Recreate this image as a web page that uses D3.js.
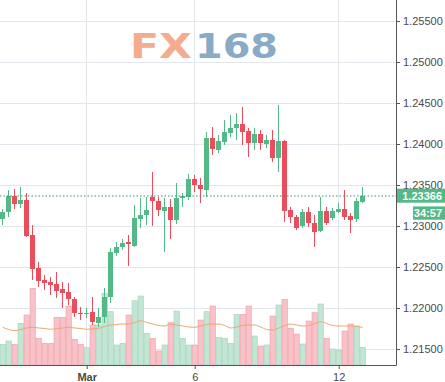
<!DOCTYPE html>
<html>
<head>
<meta charset="utf-8">
<script src="https://cdn.jsdelivr.net/npm/d3@7/dist/d3.min.js"></script>
<style>
	body { margin: 0; background: #fff; }
	svg { display: block; font-family: 'Liberation Sans', Arial, sans-serif; }
	.labels text { fill: #4a4a4a; font-size: 11px; }
	.labels line { stroke: #555; }
</style>
</head>
<body>
<svg></svg>
<script>
const open = [1.23082, 1.23174, 1.23366, 1.23265, 1.23317, 1.22890, 1.22484, 1.22341, 1.22321, 1.22293,
	1.22228, 1.22195, 1.22106, 1.21943, 1.21931, 1.21948, 1.21821, 1.21887, 1.22131, 1.22674,
	1.22748, 1.22805, 1.22760, 1.23085, 1.23131, 1.23350, 1.23309, 1.23187, 1.23228, 1.23073,
	1.23345, 1.23357, 1.23570, 1.23496, 1.23439, 1.24077, 1.23927, 1.24028, 1.24138, 1.24191,
	1.24244, 1.24159, 1.24009, 1.24118, 1.24000, 1.24049, 1.23833, 1.24037, 1.23195, 1.23106,
	1.23000, 1.23171, 1.23040, 1.22943, 1.23183, 1.23094, 1.23174, 1.23207, 1.23122, 1.23082,
	1.23296];
const high = [1.23207, 1.23439, 1.23448, 1.23479, 1.23399, 1.23012, 1.22565, 1.22402, 1.22382, 1.22443,
	1.22321, 1.22301, 1.22138, 1.22016, 1.22000, 1.22138, 1.22000, 1.22240, 1.22735, 1.22809,
	1.22838, 1.22890, 1.23256, 1.23345, 1.23357, 1.23662, 1.23357, 1.23338, 1.23326, 1.23521,
	1.23399, 1.23634, 1.23622, 1.23582, 1.24150, 1.24211, 1.24110, 1.24293, 1.24354, 1.24374,
	1.24455, 1.24191, 1.24191, 1.24171, 1.24110, 1.24171, 1.24476, 1.24049, 1.23235, 1.23134,
	1.23204, 1.23235, 1.23134, 1.23357, 1.23235, 1.23216, 1.23284, 1.23439, 1.23155, 1.23338,
	1.23472];
const low = [1.23012, 1.23113, 1.23204, 1.23216, 1.22862, 1.22341, 1.22260, 1.22220, 1.22159, 1.22118,
	1.21996, 1.22037, 1.21894, 1.21854, 1.21878, 1.21793, 1.21772, 1.21813, 1.22057, 1.22634,
	1.22707, 1.22512, 1.22748, 1.22972, 1.23012, 1.23000, 1.23126, 1.22687, 1.22838, 1.23024,
	1.23228, 1.23317, 1.23418, 1.23284, 1.23357, 1.23866, 1.23887, 1.23988, 1.24089, 1.24049,
	1.23988, 1.23845, 1.23927, 1.23927, 1.23948, 1.23784, 1.23662, 1.23052, 1.23033, 1.22951,
	1.22972, 1.22991, 1.22748, 1.22931, 1.23012, 1.23073, 1.23155, 1.23073, 1.22911, 1.23052,
	1.23277];
const close = [1.23174, 1.23366, 1.23268, 1.23317, 1.22878, 1.22476, 1.22333, 1.22309, 1.22280, 1.22211,
	1.22187, 1.22106, 1.21943, 1.21931, 1.21940, 1.21833, 1.21887, 1.22138, 1.22683, 1.22748,
	1.22796, 1.22781, 1.23094, 1.23131, 1.23195, 1.23309, 1.23195, 1.23228, 1.23073, 1.23338,
	1.23366, 1.23570, 1.23496, 1.23448, 1.24077, 1.23935, 1.24037, 1.24143, 1.24199, 1.24244,
	1.24150, 1.24009, 1.24118, 1.24009, 1.24049, 1.23826, 1.24037, 1.23187, 1.23113, 1.22972,
	1.23171, 1.23033, 1.22931, 1.23183, 1.23040, 1.23183, 1.23207, 1.23113, 1.23073, 1.23309,
	1.23366];
const volume = [2070, 2400, 2070, 4170, 5000, 7670, 2670, 2170, 2170, 4770,
	4770, 5900, 2570, 2070, 1730, 4000, 4000, 7170, 5330, 2000,
	2170, 5000, 6430, 6900, 3170, 2670, 1400, 2000, 4230, 5400,
	2670, 2000, 2000, 4500, 5330, 5900, 2770, 2670, 2170, 5070,
	5070, 5900, 2900, 1900, 2000, 4900, 6000, 6570, 3670, 3100,
	2100, 4400, 5230, 6100, 2670, 1600, 1500, 3400, 4100, 3900,
	1770];
const volumeMA = [3770, 3550, 3430, 3550, 3700, 3770, 3700, 3650, 3570, 3650,
	3700, 3770, 3700, 3650, 3570, 3620, 3670, 3850, 4000, 4050,
	4100, 4100, 4250, 4430, 4250, 4100, 3950, 3900, 4100, 4000,
	3900, 3800, 3770, 3900, 4050, 4100, 4100, 3950, 3700, 3800,
	3950, 4000, 4000, 3800, 3550, 3500, 3700, 3950, 4100, 4000,
	3900, 3950, 4150, 4330, 4150, 3950, 3900, 3900, 3900, 3850,
	3770];

const priceTicks = [1.215, 1.22, 1.225, 1.23, 1.235, 1.24, 1.245, 1.25, 1.255];
const dayTicks = [14, 32, 56];
const dayLabels = ['Mar', '6', '12'];
const lastPrice = '1.23366';
const countdown = '34:57';

const width = 445;
const height = 382;
const plotRight = 396;
const plotBottom = 365;
const upColor = '#53b987';
const downColor = '#eb4d5c';

const data = open.map((o, i) => ({
	i: i, o: o, h: high[i], l: low[i], c: close[i], v: volume[i], ma: volumeMA[i]
}));

const svg = d3.select('svg')
	.attr('width', width)
	.attr('height', height);

const xScale = d3.scaleLinear()
	.domain([0, data.length - 1])
	.range([2.7, 362.7]);

const yScale = d3.scaleLinear()
	.domain([1.215, 1.255])
	.range([349, 21]);

const vScale = d3.scaleLinear()
	.domain([0, 10000])
	.range([plotBottom, plotBottom - 100]);

const step = xScale(1) - xScale(0);

// grid
const grid = svg.append('g')
	.attr('stroke', '#e3e6ec')
	.attr('shape-rendering', 'crispEdges');

grid.selectAll('.h')
	.data(priceTicks)
	.enter().append('line')
	.attr('x1', 0)
	.attr('x2', plotRight)
	.attr('y1', d => yScale(d))
	.attr('y2', d => yScale(d));

grid.selectAll('.v')
	.data(dayTicks)
	.enter().append('line')
	.attr('x1', d => xScale(d))
	.attr('x2', d => xScale(d))
	.attr('y1', 0)
	.attr('y2', plotBottom);

// watermark
const mark = svg.append('g')
	.attr('font-family', 'DejaVu Sans, sans-serif')
	.attr('font-weight', 'bold')
	.attr('font-size', 34);

mark.append('text')
	.attr('x', 130)
	.attr('y', 58)
	.attr('fill', '#f4ab8e')
	.attr('textLength', 62)
	.attr('lengthAdjust', 'spacingAndGlyphs')
	.text('FX');

mark.append('text')
	.attr('x', 195)
	.attr('y', 58)
	.attr('fill', '#8aabc6')
	.attr('textLength', 83)
	.attr('lengthAdjust', 'spacingAndGlyphs')
	.text('168');

// volume
svg.append('g')
	.selectAll('rect')
	.data(data)
	.enter().append('rect')
	.attr('x', d => xScale(d.i) - step / 2 + 0.3)
	.attr('width', step - 0.6)
	.attr('y', d => vScale(d.v))
	.attr('height', d => plotBottom - vScale(d.v))
	.attr('fill', d => d.c >= d.o ? '#c3e6d4' : '#f8c2c8')
	.attr('stroke', d => d.c >= d.o ? '#9fd3b8' : '#ee9ea8')
	.attr('stroke-width', 0.6);

const maLine = d3.line()
	.x(d => xScale(d.i))
	.y(d => vScale(d.ma))
	.curve(d3.curveMonotoneX);

svg.append('path')
	.datum(data)
	.attr('d', maLine)
	.attr('fill', 'none')
	.attr('stroke', '#f2a46f')
	.attr('stroke-width', 1);

// candles
const candles = svg.append('g')
	.attr('shape-rendering', 'crispEdges')
	.selectAll('g')
	.data(data)
	.enter().append('g')
	.attr('fill', d => d.c >= d.o ? upColor : downColor)
	.attr('stroke', d => d.c >= d.o ? upColor : downColor);

candles.append('line')
	.attr('x1', d => xScale(d.i))
	.attr('x2', d => xScale(d.i))
	.attr('y1', d => yScale(d.h))
	.attr('y2', d => yScale(d.l));

candles.append('rect')
	.attr('stroke', 'none')
	.attr('x', d => xScale(d.i) - 2.3)
	.attr('width', 4.6)
	.attr('y', d => yScale(Math.max(d.o, d.c)))
	.attr('height', d => Math.max(1, Math.abs(yScale(d.o) - yScale(d.c))));

// last price line
const lastY = yScale(+lastPrice);

svg.append('line')
	.attr('x1', 0)
	.attr('x2', plotRight)
	.attr('y1', lastY)
	.attr('y2', lastY)
	.attr('stroke', '#3f8f6d')
	.attr('stroke-dasharray', '1.5,2');

// axes
const yAxis = d3.axisRight(yScale)
	.tickValues(priceTicks)
	.tickFormat(d3.format('.5f'))
	.tickSize(4)
	.tickPadding(3);

const yAxisGroup = svg.append('g')
	.attr('class', 'labels')
	.attr('transform', `translate(${plotRight},0)`)
	.call(yAxis);

yAxisGroup.select('.domain').remove();

const xAxis = d3.axisBottom(xScale)
	.tickValues(dayTicks)
	.tickFormat((d, i) => dayLabels[i])
	.tickSize(4)
	.tickPadding(4);

const xAxisGroup = svg.append('g')
	.attr('class', 'labels')
	.attr('transform', `translate(0,${plotBottom})`)
	.call(xAxis);

xAxisGroup.select('.domain').remove();
xAxisGroup.selectAll('text')
	.attr('font-weight', (d, i) => i === 0 ? 'bold' : 'normal');

svg.append('path')
	.attr('d', `M${plotRight + 0.5},0V${plotBottom + 0.5}H0`)
	.attr('fill', 'none')
	.attr('stroke', '#555');

// price badges
svg.append('rect')
	.attr('x', plotRight + 1)
	.attr('y', lastY - 7.3)
	.attr('width', width - plotRight - 1)
	.attr('height', 14)
	.attr('fill', upColor);

svg.append('text')
	.attr('x', width - 3)
	.attr('y', lastY + 4)
	.attr('text-anchor', 'end')
	.attr('fill', '#fff')
	.attr('font-size', 11)
	.attr('font-weight', 'bold')
	.text(lastPrice);

svg.append('rect')
	.attr('x', 413)
	.attr('y', lastY + 10.4)
	.attr('width', width - 413)
	.attr('height', 13.3)
	.attr('fill', upColor);

svg.append('text')
	.attr('x', width - 3)
	.attr('y', lastY + 21)
	.attr('text-anchor', 'end')
	.attr('fill', '#fff')
	.attr('font-size', 11)
	.attr('font-weight', 'bold')
	.text(countdown);
</script>
</body>
</html>
